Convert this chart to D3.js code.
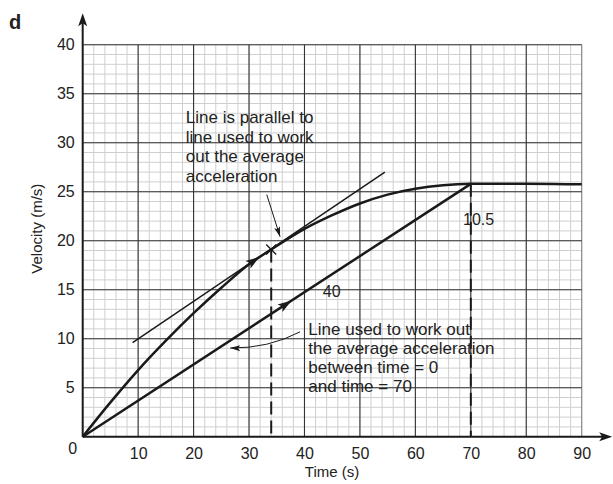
<!DOCTYPE html>
<html>
<head>
<meta charset="utf-8">
<script src="https://cdn.jsdelivr.net/npm/d3@7"></script>
<style>
  html, body { margin: 0; padding: 0; background: #fff; }
  svg { display: block; }
  text { font-family: "Liberation Sans", Arial, Helvetica, sans-serif; fill: #222; }
</style>
</head>
<body>
<svg id="chart" width="613" height="484"></svg>
<script>
// ---- data ----
const xTicks = [10, 20, 30, 40, 50, 60, 70, 80, 90];
const yTicks = [5, 10, 15, 20, 25, 30, 35, 40];
const curveTime = [0, 5, 10, 15, 20, 25, 30, 34, 40, 45, 50, 55, 60, 65, 70, 75, 80, 85, 90];
const curveVelocity = [0, 3.5, 6.8, 9.8, 12.6, 15.2, 17.6, 19.1, 21.2, 22.6, 23.8, 24.7, 25.3, 25.65, 25.8, 25.82, 25.8, 25.78, 25.75];
const avgTime = [0, 70];
const avgVelocity = [0, 25.8];
const tangentTime = [9, 54.5];
const tangentVelocity = [9.6, 27.0];
const markTime = 34, markVelocity = 19.1;
const endTime = 70, endVelocity = 25.8;
const noteParallel = ["Line is parallel to", "line used to work", "out the average", "acceleration"];
const noteAverage = ["Line used to work out", "the average acceleration", "between time = 0", "and time = 70"];
const label105 = "10.5";
const label40 = "40";

// ---- layout ----
const svg = d3.select("#chart");
const x = d3.scaleLinear().domain([0, 90]).range([82.7, 581.7]);
const y = d3.scaleLinear().domain([0, 40]).range([436.7, 44.7]);
const ink = "#1a1a1a";

// grid
const g = svg.append("g");
g.selectAll("line.minx").data(d3.range(0, 91, 2)).join("line")
  .attr("x1", d => x(d)).attr("x2", d => x(d)).attr("y1", y(0)).attr("y2", y(40))
  .attr("stroke", "#cfcfcf").attr("stroke-width", 1);
g.selectAll("line.miny").data(d3.range(0, 41, 1)).join("line")
  .attr("y1", d => y(d)).attr("y2", d => y(d)).attr("x1", x(0)).attr("x2", x(90))
  .attr("stroke", "#cfcfcf").attr("stroke-width", 1);
g.selectAll("line.majx").data(xTicks).join("line")
  .attr("x1", d => x(d)).attr("x2", d => x(d)).attr("y1", y(0)).attr("y2", y(40))
  .attr("stroke", d => d === 90 ? "#888" : "#333").attr("stroke-width", 1.1);
g.selectAll("line.majy").data(yTicks).join("line")
  .attr("y1", d => y(d)).attr("y2", d => y(d)).attr("x1", x(0)).attr("x2", x(90))
  .attr("stroke", "#333").attr("stroke-width", 1.1);

// tick labels via axes
const xAxis = svg.append("g").attr("transform", `translate(0,${y(0)})`)
  .call(d3.axisBottom(x).tickValues(xTicks).tickSize(0).tickPadding(11));
xAxis.select(".domain").remove();
xAxis.selectAll("text").style("font-size", "16px").attr("fill", "#222")
  .style("font-family", '"Liberation Sans", Arial, sans-serif');
const yAxis = svg.append("g").attr("transform", `translate(${x(0)},0)`)
  .call(d3.axisLeft(y).tickValues(yTicks).tickSize(0).tickPadding(8));
yAxis.select(".domain").remove();
yAxis.selectAll("text").style("font-size", "16px").attr("fill", "#222")
  .style("font-family", '"Liberation Sans", Arial, sans-serif');
svg.append("text").attr("x", x(0) - 10).attr("y", y(0) + 17).attr("text-anchor", "middle")
  .style("font-size", "16px").text("0");

// axis lines with arrows
function arrowHead(tx, ty, angle, len, wid, notch) {
  const ca = Math.cos(angle), sa = Math.sin(angle);
  const pts = [[0, 0], [-len, wid / 2], [-len + notch, 0], [-len, -wid / 2]]
    .map(([a, b]) => [tx + a * ca - b * sa, ty + a * sa + b * ca]);
  svg.append("path").attr("d", "M" + pts.map(p => p.join(",")).join("L") + "Z").attr("fill", ink);
}
svg.append("line").attr("x1", x(0)).attr("x2", x(95.5) - 6).attr("y1", y(0)).attr("y2", y(0))
  .attr("stroke", ink).attr("stroke-width", 2);
arrowHead(x(95.5), y(0), 0, 13, 9, 3);
svg.append("line").attr("x1", x(0)).attr("x2", x(0)).attr("y1", y(0)).attr("y2", y(43.2) + 6)
  .attr("stroke", ink).attr("stroke-width", 2);
arrowHead(x(0), y(43.2), -Math.PI / 2, 13, 9, 3);

// axis titles
svg.append("text").attr("x", 332).attr("y", 477).attr("text-anchor", "middle")
  .style("font-size", "15px").text("Time (s)");
svg.append("text").attr("transform", `translate(42,${(y(0) + y(40)) / 2 - 12}) rotate(-90)`)
  .attr("text-anchor", "middle").style("font-size", "15px").text("Velocity (m/s)");
svg.append("text").attr("x", 9).attr("y", 29).style("font-size", "20px").style("font-weight", "bold").text("d");

// dashed verticals
[[markTime, markVelocity], [endTime, endVelocity]].forEach(([t, v]) => {
  svg.append("line").attr("x1", x(t)).attr("x2", x(t)).attr("y1", y(v)).attr("y2", y(0))
    .attr("stroke", ink).attr("stroke-width", 2).attr("stroke-dasharray", "13,6");
});

// lines
const line = d3.line().x(d => x(d[0])).y(d => y(d[1]));
svg.append("path").datum(tangentTime.map((t, i) => [t, tangentVelocity[i]]))
  .attr("d", line).attr("fill", "none").attr("stroke", ink).attr("stroke-width", 1.5);
svg.append("path").datum(avgTime.map((t, i) => [t, avgVelocity[i]]))
  .attr("d", line).attr("fill", "none").attr("stroke", ink).attr("stroke-width", 2.5);
const curvePts = curveTime.map((t, i) => [t, curveVelocity[i]]);
svg.append("path").datum(curvePts)
  .attr("d", line.curve(d3.curveMonotoneX)).attr("fill", "none").attr("stroke", ink).attr("stroke-width", 2.5);

// arrowheads on lines
function headOnLine(t1, v1, t2, v2) {
  const ang = Math.atan2(y(v2) - y(v1), x(t2) - x(t1));
  arrowHead(x(t2), y(v2), ang, 14, 9, 3);
}
headOnLine(28, d3.interpolate(curveVelocity[6], curveVelocity[7])(-0.5), 31.9, 18.35);
headOnLine(30, 30 * avgVelocity[1] / avgTime[1], 37.7, 37.7 * avgVelocity[1] / avgTime[1]);

// cross marker
const cs = 5;
svg.append("path")
  .attr("d", `M${x(markTime) - cs},${y(markVelocity) - cs}L${x(markTime) + cs},${y(markVelocity) + cs}M${x(markTime) - cs},${y(markVelocity) + cs}L${x(markTime) + cs},${y(markVelocity) - cs}`)
  .attr("stroke", ink).attr("stroke-width", 1.3);

// annotation texts
svg.append("g").selectAll("text").data(noteParallel).join("text")
  .attr("x", x(18.6)).attr("y", (d, i) => y(32.0) + i * 19.5)
  .style("font-size", "17px").text(d => d);
svg.append("g").selectAll("text").data(noteAverage).join("text")
  .attr("x", x(40.7)).attr("y", (d, i) => y(10.4) + i * 19)
  .style("font-size", "17px").text(d => d);
svg.append("text").attr("x", x(68.6)).attr("y", y(21.6)).style("font-size", "16px").text(label105);
svg.append("text").attr("x", x(43.3)).attr("y", y(14.3)).style("font-size", "16px").text(label40);

// pointer arrows
function thinHead(tx, ty, ang) {
  const len = 10, wid = 6;
  const ca = Math.cos(ang), sa = Math.sin(ang);
  const pts = [[0, 0], [-len, wid / 2], [-len + 2, 0], [-len, -wid / 2]]
    .map(([a, b]) => [tx + a * ca - b * sa, ty + a * sa + b * ca]);
  svg.append("path").attr("d", "M" + pts.map(p => p.join(",")).join("L") + "Z").attr("fill", ink);
}
svg.append("line").attr("x1", x(33.2)).attr("y1", y(24.7)).attr("x2", x(35.6)).attr("y2", y(20.4))
  .attr("stroke", ink).attr("stroke-width", 1);
thinHead(x(35.6), y(20.4), Math.atan2(y(20.4) - y(24.7), x(35.6) - x(33.2)));
const p0 = [x(39.2), y(10.7)], pc = [x(33.5), y(9.0)], p1 = [x(26.6), y(9.05)];
svg.append("path").attr("d", `M${p0}Q${pc} ${p1}`).attr("fill", "none").attr("stroke", ink).attr("stroke-width", 1);
thinHead(p1[0], p1[1], Math.atan2(p1[1] - pc[1], p1[0] - pc[0]));
</script>
</body>
</html>
